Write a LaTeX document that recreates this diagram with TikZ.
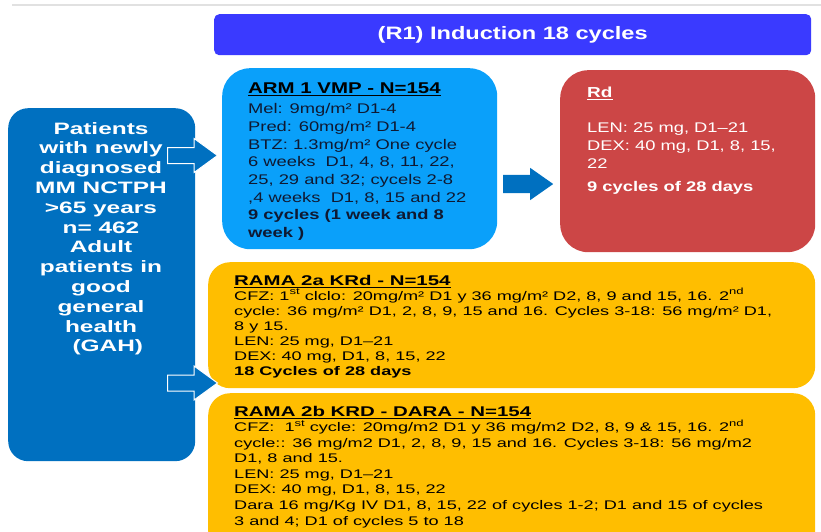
\documentclass[tikz,border=0pt]{standalone}
\usepackage{fontspec}
\usetikzlibrary{shapes.arrows}
\setmainfont{Liberation Sans}
\newfontfamily\fA[FakeStretch=1.31]{Liberation Sans}
\newfontfamily\fR[FakeStretch=1.45]{Liberation Sans}
\newfontfamily\fL[FakeStretch=1.48]{Liberation Sans}
\definecolor{titleblue}{RGB}{58,58,255}
\definecolor{arrowblue}{RGB}{0,112,192}
\definecolor{lightblue}{RGB}{10,160,250}
\definecolor{rdred}{RGB}{204,70,70}
\definecolor{amber}{RGB}{255,190,0}
\definecolor{navytext}{RGB}{15,25,50}
\definecolor{shadowgray}{RGB}{225,225,225}
\newcommand{\sups}[1]{\raisebox{0.45em}{\fontsize{9}{9}\selectfont #1}}
\tikzset{
  box/.style={rounded corners=#1, inner sep=0pt, anchor=north west},
  txt/.style={inner sep=0pt, anchor=north west, align=left},
  blockarrow/.style={single arrow, fill=arrowblue, draw=white, line width=1pt,
    minimum height=50pt, minimum width=33pt, single arrow head extend=9pt,
    inner xsep=0pt, inner ysep=7.5pt, single arrow tip angle=72, anchor=west},
  midarrow/.style={single arrow, fill=arrowblue, draw=none,
    minimum height=50pt, minimum width=32pt, single arrow head extend=7pt,
    inner xsep=0pt, inner ysep=9pt, single arrow tip angle=70, anchor=west},
}
\begin{document}
\begin{tikzpicture}[x=1pt,y=-1pt]
\useasboundingbox (0,0) rectangle (821,532);
\clip (0,0) rectangle (821,532);
% top shadow line
\draw[shadowgray, line width=2pt] (12,5) -- (821,5);
% title
\node[box=5, fill=titleblue, minimum width=597pt, minimum height=41pt] (title) at (214,14) {};
\node[text=white, inner sep=0pt, font=\fA\fontsize{18}{20}\selectfont\bfseries] (titletext) at (title.center)
  {(R1) Induction 18 cycles};
% left box
\node[box=20, fill=arrowblue, minimum width=187pt, minimum height=353pt] (left) at (8,108) {};
\node[inner sep=0pt, anchor=north, align=center, text=white, font=\fL\fontsize{16.5}{19.8}\selectfont\bfseries] (lefttext) at (101,122)
  {Patients\\with newly\\diagnosed\\MM NCTPH\\>65 years\\n= 462\\Adult\\patients in\\good\\general\\health\\\ \ (GAH)};
% ARM 1
\node[box=28, fill=lightblue, minimum width=275pt, minimum height=181pt] (arm) at (222,68) {};
\node[txt, text=navytext, font=\fA\fontsize{14}{17.7}\selectfont] (armtext) at (248,82.5)
  {{\fontsize{15.6}{17.7}\selectfont\bfseries\textcolor{black}{\underline{ARM 1 VMP - N=154}}}\\[2.5pt]
   Mel: 9mg/m² D1-4\\
   Pred: 60mg/m² D1-4\\
   BTZ: 1.3mg/m² One cycle\\
   6 weeks\ \ D1, 4, 8, 11, 22,\\
   25, 29 and 32; cycels 2-8\\
   ,4 weeks\ \ D1, 8, 15 and 22\\
   {\bfseries 9 cycles (1 week and 8}\\
   {\bfseries week )}};
% Rd
\node[box=28, fill=rdred, minimum width=255pt, minimum height=182pt] (rd) at (560,70) {};
\node[txt, text=white, font=\fA\fontsize{14}{18}\selectfont] (rdtext) at (587,87)
  {{\fontsize{14.5}{18}\selectfont\bfseries\underline{Rd}}\\[17pt]
   LEN: 25 mg, D1–21\\
   DEX: 40 mg, D1, 8, 15,\\
   22\\[5pt]
   {\bfseries 9 cycles of 28 days}};
% RAMA 2a
\node[box=22, fill=amber, minimum width=607pt, minimum height=126pt] (r2a) at (208,262) {};
\node[txt, text=black, font=\fR\fontsize{12.5}{15}\selectfont] (r2atext) at (234,275)
  {{\fontsize{14.1}{15}\selectfont\bfseries\underline{RAMA 2a KRd - N=154}}\\
   CFZ: 1\sups{st} clclo: 20mg/m² D1 y 36 mg/m² D2, 8, 9 and 15, 16. 2\sups{nd}\\
   cycle: 36 mg/m² D1, 2, 8, 9, 15 and 16. Cycles 3-18: 56 mg/m² D1,\\
   8 y 15.\\
   LEN: 25 mg, D1–21\\
   DEX: 40 mg, D1, 8, 15, 22\\
   {\bfseries 18 Cycles of 28 days}};
% RAMA 2b
\node[box=22, fill=amber, minimum width=607pt, minimum height=160pt] (r2b) at (208,393) {};
\node[txt, text=black, font=\fR\fontsize{12.5}{15.4}\selectfont] (r2btext) at (234,406)
  {{\fontsize{14.1}{15.4}\selectfont\bfseries\underline{RAMA 2b KRD - DARA - N=154}}\\
   CFZ:\ \ 1\sups{st} cycle: 20mg/m2 D1 y 36 mg/m2 D2, 8, 9 \& 15, 16. 2\sups{nd}\\
   cycle:: 36 mg/m2 D1, 2, 8, 9, 15 and 16. Cycles 3-18: 56 mg/m2\\
   D1, 8 and 15.\\
   LEN: 25 mg, D1–21\\
   DEX: 40 mg, D1, 8, 15, 22\\[0.6pt]
   Dara 16 mg/Kg IV D1, 8, 15, 22 of cycles 1-2; D1 and 15 of cycles\\[0.6pt]
   3 and 4; D1 of cycles 5 to 18};
% block arrows
\node[blockarrow] (arrowA) at (167,155.5) {};
\node[blockarrow] (arrowB) at (167,383) {};
\node[midarrow] (arrowC) at (503,184) {};
\end{tikzpicture}
\end{document}
